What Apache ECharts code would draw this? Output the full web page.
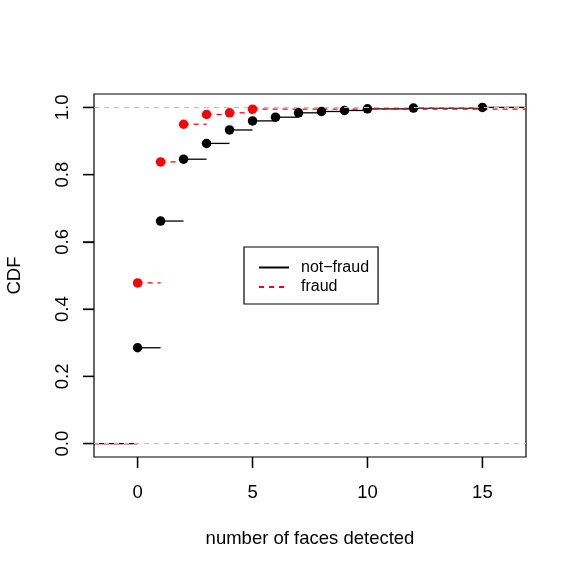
<!DOCTYPE html>
<html>
<head>
<meta charset="utf-8">
<script src="https://cdn.jsdelivr.net/npm/echarts@6/dist/echarts.min.js"></script>
<style>html,body{margin:0;padding:0;background:#fff;}#c{width:575px;height:575px;}</style>
</head>
<body>
<div id="c"></div>
<script>
const xTicks = [0, 5, 10, 15];
const yTicks = [0, 0.2, 0.4, 0.6, 0.8, 1.0];
const notFraudX = [0, 1, 2, 3, 4, 5, 6, 7, 8, 9, 10, 12, 15];
const notFraudCDF = [0.285, 0.662, 0.846, 0.893, 0.933, 0.960, 0.971, 0.984, 0.988, 0.991, 0.996, 0.998, 1.0];
const fraudX = [0, 1, 2, 3, 4, 5];
const fraudCDF = [0.478, 0.838, 0.950, 0.979, 0.984, 0.995];
const refLines = [0, 1];
const seriesNames = ['not\u2212fraud', 'fraud'];

const X_MIN = -1.896, X_MAX = 16.896;
const Y_MIN = -0.04, Y_MAX = 1.04;
const TICK_LEN = 11;
const FONT = '"Liberation Sans", Arial, Helvetica, sans-serif';

function steps(xs, ys) {
  const segs = [[X_MIN, xs[0], 0]];
  for (let i = 0; i < xs.length; i++) {
    segs.push([xs[i], i < xs.length - 1 ? xs[i + 1] : X_MAX, ys[i]]);
  }
  return segs;
}
function pts(xs, ys) { return xs.map((x, i) => [x, ys[i]]); }

function segSeries(data, color, dash) {
  return {
    type: 'custom',
    data: data,
    clip: true,
    silent: true,
    encode: { x: [0, 1], y: 2 },
    renderItem: function (params, api) {
      const p0 = api.coord([api.value(0), api.value(2)]);
      const p1 = api.coord([api.value(1), api.value(2)]);
      return {
        type: 'line',
        shape: { x1: p0[0], y1: p0[1], x2: p1[0], y2: p1[1] },
        style: { stroke: color, lineWidth: 1.3, lineDash: dash, fill: null }
      };
    },
    z: 3
  };
}

const chart = echarts.init(document.getElementById('c'), null, { renderer: 'canvas' });
chart.setOption({
  animation: false,
  backgroundColor: '#fff',
  textStyle: { fontFamily: FONT },
  grid: { left: 94, right: 49, top: 94, bottom: 118, containLabel: false, outerBoundsMode: 'none',
    show: true, borderColor: '#000', borderWidth: 1.2, backgroundColor: 'transparent' },
  xAxis: {
    type: 'value', min: X_MIN, max: X_MAX,
    name: 'number of faces detected', nameLocation: 'middle', nameGap: 72,
    nameTextStyle: { fontSize: 18.5, color: '#000', fontFamily: FONT },
    axisLine: { show: false, onZero: false },
    axisTick: { show: true, inside: false, length: TICK_LEN, customValues: xTicks, lineStyle: { color: '#000', width: 1.3 } },
    axisLabel: { customValues: xTicks, margin: 26, fontSize: 18.5, color: '#000', fontFamily: FONT },
    splitLine: { show: false }
  },
  yAxis: {
    type: 'value', min: Y_MIN, max: Y_MAX, position: 'left',
    name: 'CDF', nameLocation: 'middle', nameGap: 70,
    nameTextStyle: { fontSize: 18.5, color: '#000', fontFamily: FONT },
    axisLine: { show: false, onZero: false },
    axisTick: { show: true, inside: false, length: TICK_LEN, customValues: yTicks, lineStyle: { color: '#000', width: 1.3 } },
    axisLabel: { customValues: yTicks, rotate: 90, margin: 21.5, fontSize: 18.5, color: '#000', fontFamily: FONT,
      formatter: v => v.toFixed(1) },
    splitLine: { show: false }
  },
  legend: {
    data: seriesNames,
    orient: 'vertical',
    left: 244, top: 247,
    padding: [12.5, 9, 9, 14],
    itemWidth: 30, itemHeight: 14, itemGap: 3.5,
    borderColor: '#000', borderWidth: 1.2,
    itemStyle: { opacity: 0 },
    textStyle: { fontSize: 16, color: '#000', fontFamily: FONT, padding: [0, 0, 0, 7] },
    selectedMode: false
  },
  series: [
    {
      type: 'line', data: [], symbol: 'none',
      markLine: {
        silent: true, symbol: ['none', 'none'], label: { show: false },
        lineStyle: { color: '#BEBEBE', type: [5, 5], width: 1.2 },
        data: refLines.map(v => ({ yAxis: v }))
      },
      z: 1
    },
    segSeries(steps(notFraudX, notFraudCDF), '#000', null),
    { type: 'scatter', data: pts(notFraudX, notFraudCDF), symbol: 'circle', symbolSize: 9.5, itemStyle: { color: '#000', opacity: 1 }, z: 4 },
    segSeries(steps(fraudX, fraudCDF), '#FF0000', [5, 5]),
    { type: 'scatter', data: pts(fraudX, fraudCDF), symbol: 'circle', symbolSize: 9.5, itemStyle: { color: '#FF0000', opacity: 1 }, z: 5 },
    { name: seriesNames[0], type: 'line', data: [], symbol: 'none', lineStyle: { color: '#000', width: 1.3, type: 'solid' }, itemStyle: { color: '#000' } },
    { name: seriesNames[1], type: 'line', data: [], symbol: 'none', lineStyle: { color: '#FF0000', width: 1.3, type: [5, 5] }, itemStyle: { color: '#FF0000' } }
  ]
});

// R-style outward tick marks as thin filled bars, positioned through the chart's own axis scales
const tickEls = [];
xTicks.forEach(function (v) {
  const p = chart.convertToPixel({ gridIndex: 0 }, [v, Y_MIN]);
  tickEls.push({ type: 'rect', z: 100, zlevel: 1, silent: true,
    shape: { x: p[0] - 0.65, y: p[1], width: 1.3, height: TICK_LEN },
    style: { fill: '#000' } });
});
yTicks.forEach(function (v) {
  const p = chart.convertToPixel({ gridIndex: 0 }, [X_MIN, v]);
  tickEls.push({ type: 'rect', z: 100, zlevel: 1, silent: true,
    shape: { x: p[0] - TICK_LEN, y: p[1] - 0.65, width: TICK_LEN, height: 1.3 },
    style: { fill: '#000' } });
});
chart.setOption({ graphic: { elements: tickEls } });
</script>
</body>
</html>
